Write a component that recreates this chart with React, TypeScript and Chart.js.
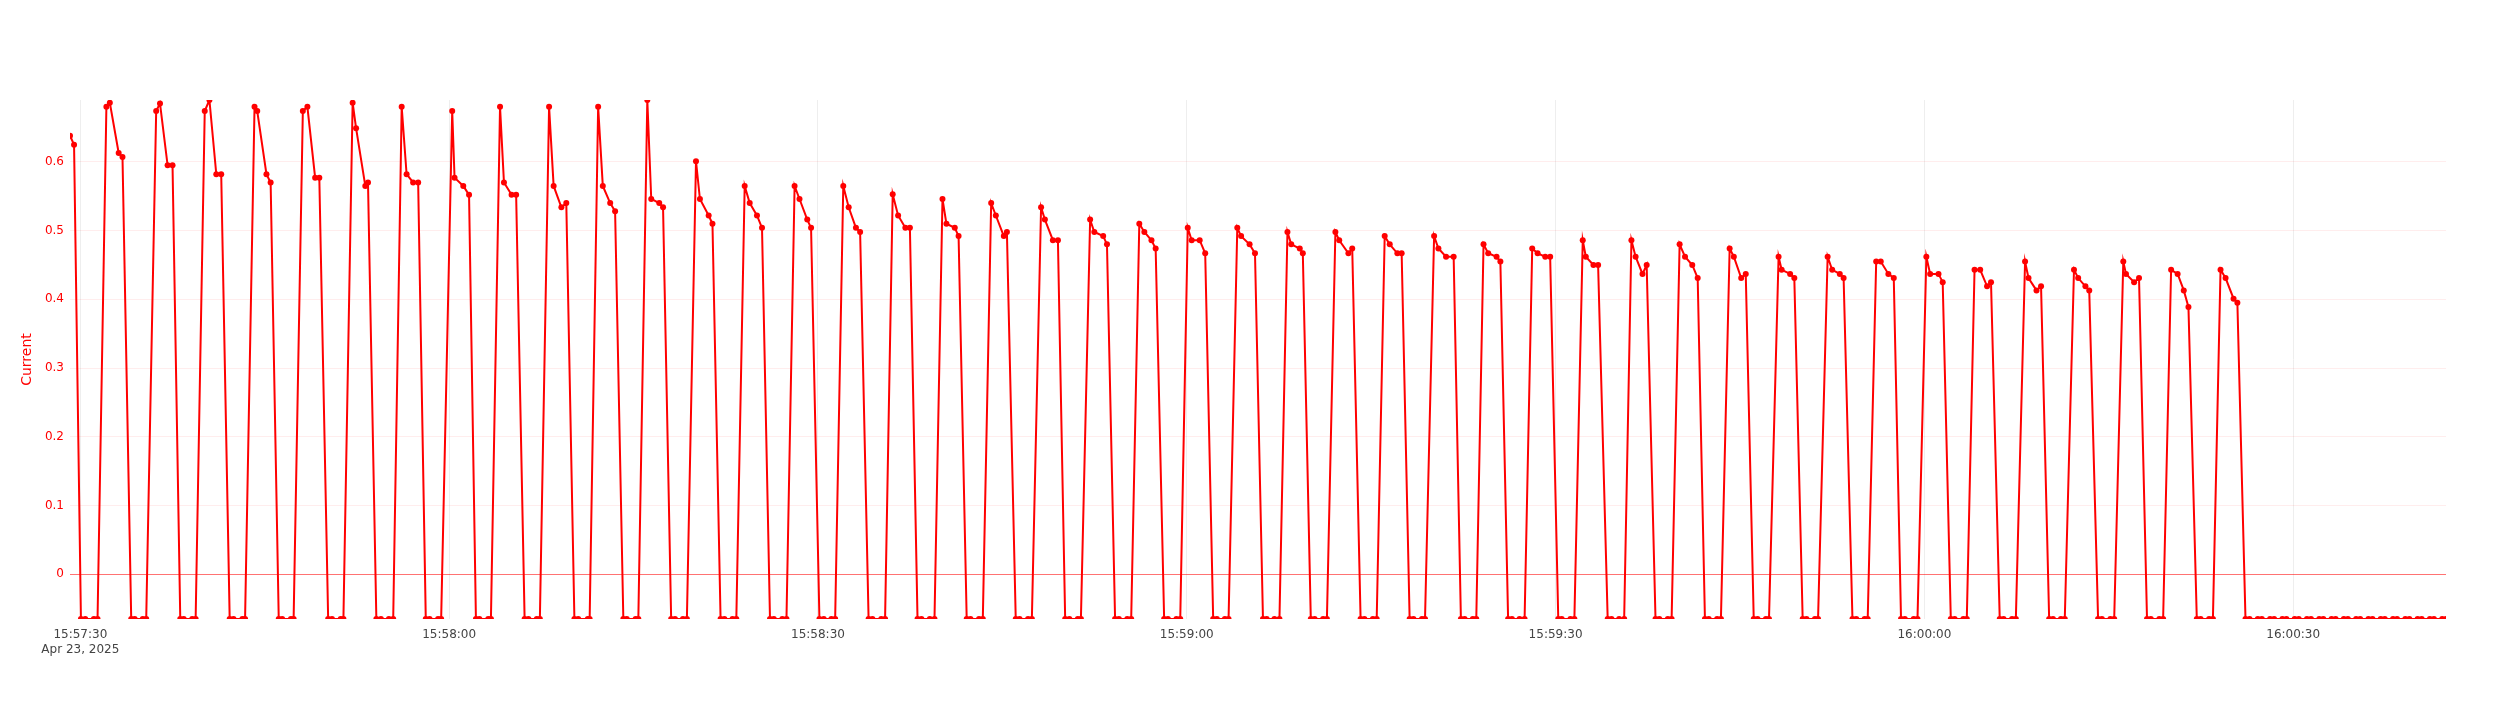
import React, { useEffect, useRef } from "react";
import { Chart, registerables } from "chart.js";

Chart.register(...registerables);

// ---- data -----------------------------------------------------------------
// seconds relative to 15:57:30 (Apr 23, 2025)
const OFF = -0.065;
const baseClock = [15, 57, 30];
const baseDate = "Apr 23, 2025";
const xTickSeconds = [0, 30, 60, 90, 120, 150, 180];
const yTickValues = [0, 0.1, 0.2, 0.3, 0.4, 0.5, 0.6];
const xRange = [-0.84, 192.43];
const yRange = [-0.065, 0.69];

const sampleSeconds = [
  -0.84, -0.51,
  0.05, 0.4, 1.1, 1.4, 2.12, 2.4, 3.12, 3.43,
  4.14, 4.42, 5.08, 5.36, 6.17, 6.48, 7.1, 7.5,
  8.13, 8.41, 9.1, 9.38, 10.12, 10.5, 11.06, 11.46,
  12.15, 12.46, 13.18, 13.4, 14.17, 14.39, 15.14, 15.48,
  16.14, 16.42, 17.13, 17.35, 18.1, 18.47, 19.1, 19.44,
  20.16, 20.47, 21.18, 21.4, 22.15, 22.43, 23.18, 23.4,
  24.08, 24.45, 25.1, 25.45, 26.14, 26.54, 27.07, 27.48,
  28.1, 28.41, 29.1, 29.35, 30.25, 30.44, 31.15, 31.62,
  32.18, 32.46, 33.18, 33.4, 34.14, 34.46, 35.08, 35.45,
  36.14, 36.45, 37.13, 37.38, 38.13, 38.5, 39.13, 39.53,
  40.19, 40.5, 41.28, 41.43, 42.12, 42.5, 43.1, 43.5,
  44.17, 44.45, 45.17, 45.39, 46.12, 46.44, 47.09, 47.4,
  48.06, 48.37, 49.02, 49.34, 50.08, 50.4, 51.11, 51.42,
  52.08, 52.39, 53.05, 53.36, 54.04, 54.45, 55.04, 55.45,
  56.1, 56.41, 57.1, 57.44, 58.1, 58.5, 59.13, 59.44,
  60.12, 60.47, 61.09, 61.4, 62.06, 62.5, 63.09, 63.43,
  64.12, 64.43, 65.15, 65.46, 66.08, 66.52, 67.11, 67.48,
  68.1, 68.42, 69.1, 69.48, 70.13, 70.45, 71.13, 71.44,
  72.1, 72.41, 73.1, 73.41, 74.09, 74.47, 75.12, 75.37,
  76.09, 76.4, 77.09, 77.4, 78.15, 78.46, 79.11, 79.52,
  80.11, 80.45, 81.14, 81.39, 82.14, 82.48, 83.2, 83.51,
  84.17, 84.48, 85.16, 85.48, 86.14, 86.55, 87.13, 87.47,
  88.16, 88.47, 89.16, 89.47, 90.08, 90.4, 91.05, 91.5,
  92.15, 92.45, 93.1, 93.4, 94.11, 94.42, 95.11, 95.55,
  96.2, 96.5, 97.13, 97.54, 98.19, 98.5, 99.19, 99.44,
  100.09, 100.4, 101.09, 101.4, 102.09, 102.4, 103.15, 103.46,
  104.14, 104.45, 105.14, 105.45, 106.1, 106.51, 107.13, 107.48,
  108.13, 108.44, 109.13, 109.38, 110.12, 110.47, 111.09, 111.71,
  112.3, 112.6, 113.27, 113.55, 114.14, 114.52, 115.2, 115.51,
  116.14, 116.45, 117.07, 117.48, 118.1, 118.54, 119.16, 119.56,
  120.22, 120.5, 121.21, 121.53, 122.21, 122.46, 123.08, 123.46,
  124.24, 124.55, 125.17, 125.58, 126.17, 126.51, 127.07, 127.41,
  128.13, 128.44, 129.13, 129.44, 130.09, 130.53, 131.12, 131.56,
  132.15, 132.46, 133.14, 133.45, 134.16, 134.5, 135.1, 135.47,
  136.12, 136.43, 137.11, 137.36, 138.14, 138.39, 139.08, 139.42,
  140.1, 140.41, 141.1, 141.35, 142.13, 142.5, 143.12, 143.43,
  144.15, 144.46, 145.14, 145.39, 146.08, 146.45, 147.07, 147.51,
  148.1, 148.41, 149.13, 149.44, 150.16, 150.47, 151.15, 151.49,
  152.15, 152.46, 153.17, 153.45, 154.08, 154.54, 155.1, 155.42,
  156.13, 156.44, 157.13, 157.44, 158.19, 158.47, 159.12, 159.49,
  160.15, 160.46, 161.11, 161.42, 162.17, 162.51, 163.1, 163.41,
  164.13, 164.44, 165.13, 165.44, 166.18, 166.4, 167.06, 167.46,
  168.11, 168.42, 169.11, 169.42, 170.07, 170.6, 171.1, 171.48,
  172.16, 172.47, 173.16, 173.47, 174.09, 174.5, 175.15, 175.46,
  176.12, 176.45, 177.12, 177.45, 178.12, 178.45, 179.12, 179.45,
  180.12, 180.45, 181.12, 181.45, 182.12, 182.45, 183.12, 183.45,
  184.12, 184.45, 185.12, 185.45, 186.12, 186.45, 187.12, 187.45,
  188.12, 188.45, 189.12, 189.45, 190.12, 190.45, 191.12, 191.45,
  192.12, 192.43,
];

const currentValues = [
  0.638, 0.625,
  OFF, OFF, OFF, OFF, 0.680, 0.686, 0.613, 0.607,
  OFF, OFF, OFF, OFF, 0.674, 0.685, 0.595, 0.595,
  OFF, OFF, OFF, OFF, 0.674, 0.690, 0.582, 0.582,
  OFF, OFF, OFF, OFF, 0.680, 0.674, 0.582, 0.570,
  OFF, OFF, OFF, OFF, 0.674, 0.680, 0.577, 0.577,
  OFF, OFF, OFF, OFF, 0.686, 0.649, 0.565, 0.570,
  OFF, OFF, OFF, OFF, 0.680, 0.582, 0.570, 0.570,
  OFF, OFF, OFF, OFF, 0.674, 0.577, 0.565, 0.552,
  OFF, OFF, OFF, OFF, 0.680, 0.570, 0.552, 0.552,
  OFF, OFF, OFF, OFF, 0.680, 0.565, 0.534, 0.540,
  OFF, OFF, OFF, OFF, 0.680, 0.565, 0.540, 0.528,
  OFF, OFF, OFF, OFF, 0.690, 0.546, 0.540, 0.534,
  OFF, OFF, OFF, OFF, 0.601, 0.546, 0.522, 0.510,
  OFF, OFF, OFF, OFF, 0.565, 0.540, 0.522, 0.504,
  OFF, OFF, OFF, OFF, 0.565, 0.546, 0.516, 0.504,
  OFF, OFF, OFF, OFF, 0.565, 0.534, 0.504, 0.498,
  OFF, OFF, OFF, OFF, 0.553, 0.522, 0.504, 0.504,
  OFF, OFF, OFF, OFF, 0.546, 0.510, 0.504, 0.492,
  OFF, OFF, OFF, OFF, 0.540, 0.522, 0.492, 0.498,
  OFF, OFF, OFF, OFF, 0.534, 0.516, 0.486, 0.486,
  OFF, OFF, OFF, OFF, 0.516, 0.498, 0.492, 0.480,
  OFF, OFF, OFF, OFF, 0.510, 0.498, 0.486, 0.474,
  OFF, OFF, OFF, OFF, 0.504, 0.486, 0.486, 0.467,
  OFF, OFF, OFF, OFF, 0.504, 0.492, 0.480, 0.467,
  OFF, OFF, OFF, OFF, 0.498, 0.480, 0.474, 0.467,
  OFF, OFF, OFF, OFF, 0.498, 0.486, 0.467, 0.474,
  OFF, OFF, OFF, OFF, 0.492, 0.480, 0.467, 0.467,
  OFF, OFF, OFF, OFF, 0.492, 0.474, 0.462, 0.462,
  OFF, OFF, OFF, OFF, 0.480, 0.467, 0.462, 0.455,
  OFF, OFF, OFF, OFF, 0.474, 0.467, 0.462, 0.462,
  OFF, OFF, OFF, OFF, 0.486, 0.462, 0.450, 0.450,
  OFF, OFF, OFF, OFF, 0.486, 0.462, 0.437, 0.450,
  OFF, OFF, OFF, OFF, 0.480, 0.462, 0.450, 0.431,
  OFF, OFF, OFF, OFF, 0.474, 0.462, 0.431, 0.437,
  OFF, OFF, OFF, OFF, 0.462, 0.443, 0.437, 0.431,
  OFF, OFF, OFF, OFF, 0.462, 0.443, 0.437, 0.431,
  OFF, OFF, OFF, OFF, 0.455, 0.455, 0.437, 0.431,
  OFF, OFF, OFF, OFF, 0.462, 0.437, 0.437, 0.425,
  OFF, OFF, OFF, OFF, 0.443, 0.443, 0.419, 0.425,
  OFF, OFF, OFF, OFF, 0.455, 0.431, 0.413, 0.419,
  OFF, OFF, OFF, OFF, 0.443, 0.431, 0.419, 0.413,
  OFF, OFF, OFF, OFF, 0.455, 0.437, 0.425, 0.431,
  OFF, OFF, OFF, OFF, 0.443, 0.437, 0.413, 0.389,
  OFF, OFF, OFF, OFF, 0.443, 0.431, 0.401, 0.395,
  OFF, OFF, OFF, OFF, OFF, OFF, OFF, OFF,
  OFF, OFF, OFF, OFF, OFF, OFF, OFF, OFF,
  OFF, OFF, OFF, OFF, OFF, OFF, OFF, OFF,
  OFF, OFF, OFF, OFF, OFF, OFF, OFF, OFF,
  OFF, OFF,
];

// ---- helpers ----------------------------------------------------------------
const pad2 = (n: number) => String(n).padStart(2, "0");
function clockLabel(sec: number): string {
  const total = baseClock[0] * 3600 + baseClock[1] * 60 + baseClock[2] + Math.round(sec);
  const h = Math.floor(total / 3600);
  const m = Math.floor((total % 3600) / 60);
  const s = total % 60;
  return `${pad2(h)}:${pad2(m)}:${pad2(s)}`;
}

const FONT = "'DejaVu Sans', Verdana, sans-serif";

export default function App() {
  const canvasRef = useRef<HTMLCanvasElement | null>(null);

  useEffect(() => {
    if (!canvasRef.current) return;
    const points = sampleSeconds.map((t, i) => ({ x: t, y: currentValues[i] }));

    const chart = new Chart(canvasRef.current, {
      type: "line",
      data: {
        datasets: [
          {
            label: "Current",
            data: points,
            borderColor: "#ff0000",
            backgroundColor: "#ff0000",
            borderWidth: 2,
            pointRadius: 3,
            pointBorderWidth: 0,
            pointBackgroundColor: "#ff0000",
            tension: 0,
            fill: false,
            clip: 0,
          },
        ],
      },
      options: {
        animation: false,
        responsive: true,
        maintainAspectRatio: false,
        layout: { padding: { left: 0, top: 100, right: 50, bottom: 0 } },
        plugins: {
          legend: { display: false },
          tooltip: { enabled: false },
        },
        scales: {
          x: {
            type: "linear",
            min: xRange[0],
            max: xRange[1],
            afterFit: (scale: any) => {
              scale.height = 101;
            },
            afterBuildTicks: (scale: any) => {
              scale.ticks = xTickSeconds.map((v) => ({ value: v }));
            },
            border: { display: false },
            grid: {
              color: "#eeeeee",
              lineWidth: 1,
              drawTicks: false,
            },
            ticks: {
              padding: 8,
              maxRotation: 0,
              autoSkip: false,
              color: "#444444",
              font: { family: FONT, size: 12, lineHeight: 1.25 },
              callback: (value: any) => {
                const v = Number(value);
                return v === xTickSeconds[0] ? [clockLabel(v), baseDate] : clockLabel(v);
              },
            },
          },
          y: {
            type: "linear",
            min: yRange[0],
            max: yRange[1],
            afterFit: (scale: any) => {
              scale.width = 70;
            },
            afterBuildTicks: (scale: any) => {
              scale.ticks = yTickValues.map((v) => ({ value: v }));
            },
            border: { display: false },
            grid: {
              drawTicks: false,
              color: (ctx: any) =>
                ctx.tick && ctx.tick.value === 0 ? "rgba(255,0,0,0.55)" : "rgba(255,0,0,0.07)",
              lineWidth: 1,
            },
            title: {
              display: true,
              text: "Current",
              color: "#ff0000",
              font: { family: FONT, size: 14 },
              padding: { top: 19, bottom: 0 },
            },
            ticks: {
              padding: 6,
              color: "#ff0000",
              font: { family: FONT, size: 12 },
              callback: (value: any) => String(Math.round(Number(value) * 10) / 10),
            },
          },
        },
      },
    });

    return () => chart.destroy();
  }, []);

  return (
    <div style={{ position: "absolute", left: 0, top: 0, width: 2496, height: 720, background: "#fff" }}>
      <canvas ref={canvasRef} />
    </div>
  );
}
